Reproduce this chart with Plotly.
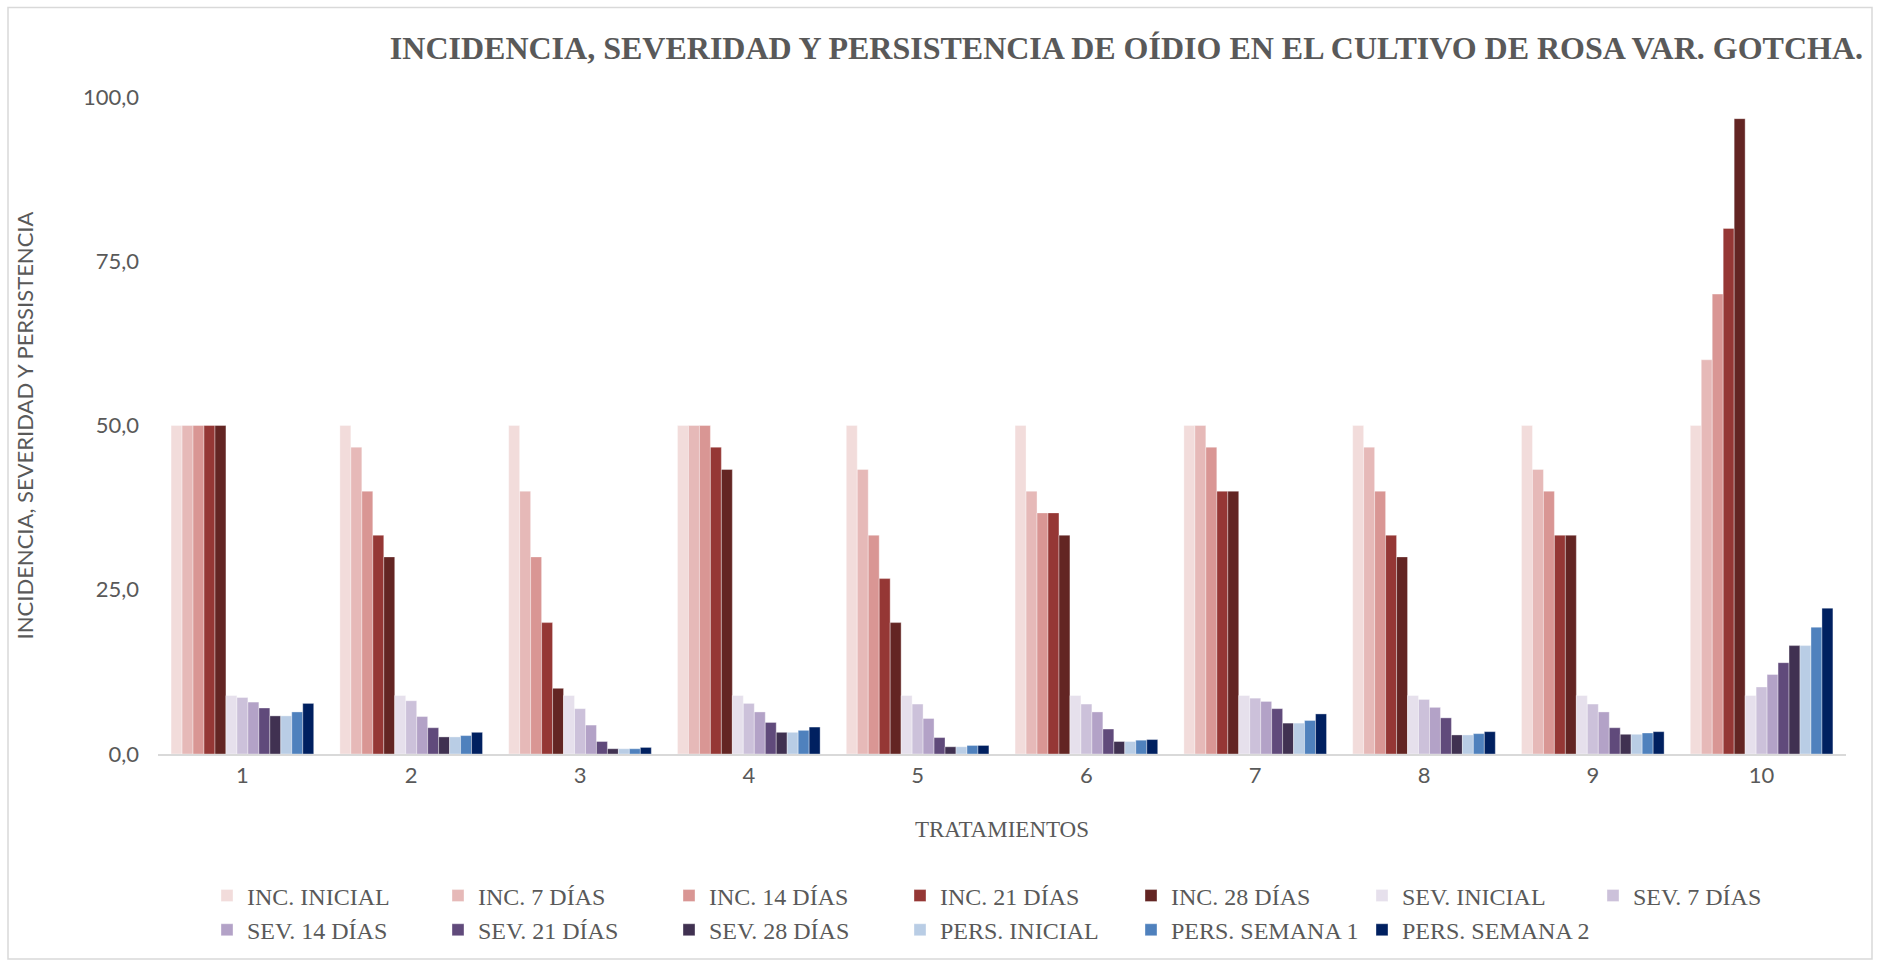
import plotly.graph_objects as go

tratamientos = ["1", "2", "3", "4", "5", "6", "7", "8", "9", "10"]

inc_inicial = [50, 50, 50, 50, 50, 50, 50, 50, 50, 50]
inc_7 = [50, 46.7, 40, 50, 43.3, 40, 50, 46.7, 43.3, 60]
inc_14 = [50, 40, 30, 50, 33.3, 36.7, 46.7, 40, 40, 70]
inc_21 = [50, 33.3, 20, 46.7, 26.7, 36.7, 40, 33.3, 33.3, 80]
inc_28 = [50, 30, 10, 43.3, 20, 33.3, 40, 30, 33.3, 96.7]
sev_inicial = [8.9, 8.9, 8.9, 8.9, 8.9, 8.9, 8.9, 8.9, 8.9, 8.9]
sev_7 = [8.6, 8.1, 6.9, 7.7, 7.6, 7.6, 8.5, 8.3, 7.6, 10.2]
sev_14 = [7.9, 5.7, 4.4, 6.4, 5.4, 6.4, 8.0, 7.1, 6.4, 12.1]
sev_21 = [7.0, 4.0, 1.9, 4.8, 2.5, 3.8, 6.9, 5.5, 4.0, 13.9]
sev_28 = [5.8, 2.6, 0.8, 3.3, 1.1, 1.9, 4.7, 2.9, 3.0, 16.5]
pers_inicial = [5.8, 2.6, 0.8, 3.3, 1.1, 1.9, 4.7, 2.9, 3.0, 16.5]
pers_sem1 = [6.4, 2.8, 0.8, 3.6, 1.3, 2.1, 5.1, 3.1, 3.2, 19.3]
pers_sem2 = [7.7, 3.3, 1.0, 4.1, 1.3, 2.2, 6.1, 3.4, 3.4, 22.2]

series = [
    ("INC. INICIAL", inc_inicial, "#F2DCDB"),
    ("INC. 7 DÍAS", inc_7, "#E6B9B8"),
    ("INC. 14 DÍAS", inc_14, "#D99694"),
    ("INC. 21 DÍAS", inc_21, "#953735"),
    ("INC. 28 DÍAS", inc_28, "#632523"),
    ("SEV. INICIAL", sev_inicial, "#E6E0EC"),
    ("SEV. 7 DÍAS", sev_7, "#CCC1DA"),
    ("SEV. 14 DÍAS", sev_14, "#B3A2C7"),
    ("SEV. 21 DÍAS", sev_21, "#604A7B"),
    ("SEV. 28 DÍAS", sev_28, "#403151"),
    ("PERS. INICIAL", pers_inicial, "#B9CDE5"),
    ("PERS. SEMANA 1", pers_sem1, "#4F81BD"),
    ("PERS. SEMANA 2", pers_sem2, "#002060"),
]

gris = "#595959"
serif = "Liberation Serif, Times New Roman, serif"
sans = "Lato, Open Sans, sans-serif"

fig = go.Figure()
for nombre, valores, color in series:
    fig.add_trace(go.Bar(
        x=tratamientos, y=valores, name=nombre,
        marker=dict(color=color, line=dict(color="rgba(255,255,255,0.6)", width=0.6)),
    ))

# plot area in pixels
L, R, T, B = 158, 33, 97, 208
W, H = 1879, 965
pw, ph = W - L - R, H - T - B

fig.update_layout(
    width=W, height=H,
    margin=dict(l=L, r=R, t=T, b=B),
    paper_bgcolor="white", plot_bgcolor="white",
    barmode="group", bargap=0.155, bargroupgap=0,
    separators=",.",
    title=dict(
        text="<b>INCIDENCIA, SEVERIDAD Y PERSISTENCIA DE OÍDIO EN EL CULTIVO DE ROSA VAR. GOTCHA.</b>",
        font=dict(family=serif, size=32, color=gris),
        xref="container", yref="container",
        x=1863 / W, xanchor="right", y=1 - 48 / H, yanchor="middle",
    ),
    xaxis=dict(
        showgrid=False, showline=True, linecolor="#D9D9D9", linewidth=2,
        automargin=False,
        ticks="", tickfont=dict(family=sans, size=22, color=gris),
        ticklabelstandoff=1,
        title=dict(text="TRATAMIENTOS", font=dict(family=serif, size=23, color=gris), standoff=33),
    ),
    yaxis=dict(
        range=[0, 100], dtick=25, tickformat=".1f",
        showgrid=False, showline=False, zeroline=False,
        automargin=False,
        tickfont=dict(family=sans, size=22, color=gris),
        ticklabelstandoff=18,
        title=dict(text="INCIDENCIA, SEVERIDAD Y PERSISTENCIA",
                   font=dict(family=sans, size=22, color=gris), standoff=43),
    ),
    legend=dict(
        orientation="h", x=(207 - L) / pw, xanchor="left",
        y=(756 - 876) / ph, yanchor="top",
        entrywidth=186, entrywidthmode="pixels",
        font=dict(family=serif, size=24, color=gris),
        traceorder="normal",
    ),
    shapes=[dict(
        type="rect", xref="paper", yref="paper",
        x0=(8 - L) / pw, x1=(1872 - L) / pw,
        y0=(756 - 962) / ph, y1=(756 - 6) / ph,
        line=dict(color="#D9D9D9", width=1.5), fillcolor="rgba(0,0,0,0)", layer="below",
    )],
)

fig.write_html("out.html", config={"displayModeBar": False},
               post_script="document.body.style.margin='0';")
